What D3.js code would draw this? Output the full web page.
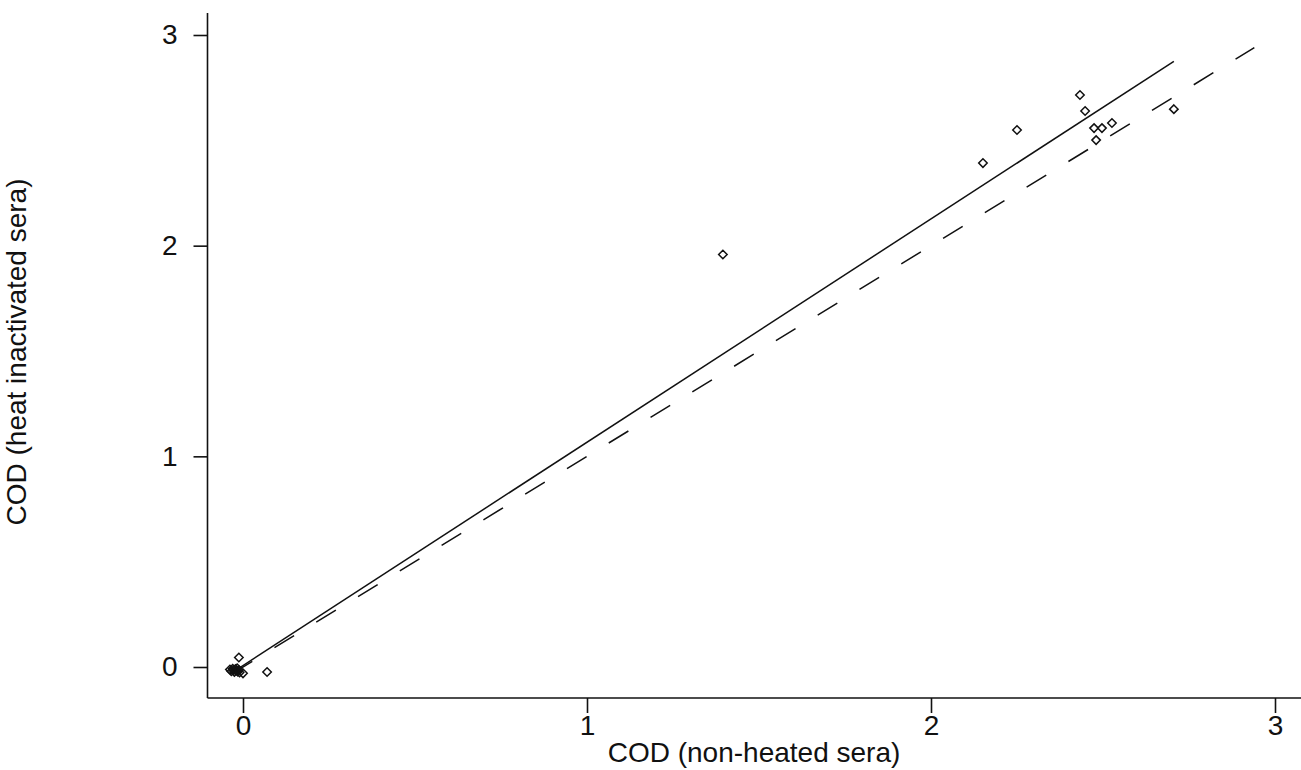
<!DOCTYPE html>
<html>
<head>
<meta charset="utf-8">
<script src="https://cdn.jsdelivr.net/npm/d3@7"></script>
<style>
  html, body { margin: 0; padding: 0; background: #fff; }
  svg text { font-family: "Liberation Sans", Arial, sans-serif; fill: #111; }
</style>
</head>
<body>
<svg id="chart" width="1301" height="770"></svg>
<script>
// ---- data ----
const xValues = [-0.038, -0.034, -0.03, -0.028, -0.025, -0.022, -0.02, -0.017, -0.015, -0.012, -0.01,
                 -0.012, 0.0, 0.07,
                 1.395, 2.151, 2.25, 2.433, 2.448, 2.474, 2.497, 2.526, 2.48, 2.706];
const yValues = [-0.012, -0.02, -0.008, -0.016, -0.024, -0.01, -0.018, -0.006, -0.022, -0.014, -0.026,
                 0.045, -0.03, -0.024,
                 1.958, 2.392, 2.549, 2.715, 2.639, 2.558, 2.558, 2.582, 2.501, 2.648];
const fitIntercept = 0.007;
const fitSlope = 1.06;
const identityRange = [-0.03, 2.94];
const xTicks = [0, 1, 2, 3];
const yTicks = [0, 1, 2, 3];
const xTitle = "COD (non-heated sera)";
const yTitle = "COD (heat inactivated sera)";

const svg = d3.select("#chart");
const x = d3.scaleLinear().domain([0, 3]).range([243, 1275]);
const y = d3.scaleLinear().domain([0, 3]).range([667, 35]);

const axisX = 698, axisY = 207.5;

// axis lines
svg.append("line").attr("x1", axisY).attr("x2", 1301).attr("y1", axisX).attr("y2", axisX)
  .attr("stroke", "#111").attr("stroke-width", 1.6);
svg.append("line").attr("x1", axisY).attr("x2", axisY).attr("y1", 13).attr("y2", axisX)
  .attr("stroke", "#111").attr("stroke-width", 1.6);

const gx = svg.append("g").attr("transform", `translate(0,${axisX})`)
  .call(d3.axisBottom(x).tickValues(xTicks).tickFormat(d3.format("d")).tickSize(15).tickSizeOuter(0).tickPadding(2));
const gy = svg.append("g").attr("transform", `translate(${axisY},0)`)
  .call(d3.axisLeft(y).tickValues(yTicks).tickFormat(d3.format("d")).tickSize(14).tickSizeOuter(0).tickPadding(16));
[gx, gy].forEach(g => {
  g.select(".domain").remove();
  g.selectAll(".tick line").attr("stroke", "#111").attr("stroke-width", 1.6);
  g.selectAll(".tick text").attr("font-size", 28).attr("font-family", "Liberation Sans, Arial, sans-serif").attr("fill", "#111");
});

// titles
svg.append("text").attr("x", 754).attr("y", 762).attr("text-anchor", "middle")
  .attr("font-size", 28).text(xTitle);
svg.append("text").attr("transform", "translate(26,352) rotate(-90)").attr("text-anchor", "middle")
  .attr("font-size", 28).text(yTitle);

// fitted solid line
const xmin = d3.min(xValues), xmax = d3.max(xValues);
svg.append("line")
  .attr("x1", x(xmin)).attr("y1", y(fitIntercept + fitSlope * xmin))
  .attr("x2", x(xmax)).attr("y2", y(fitIntercept + fitSlope * xmax))
  .attr("stroke", "#111").attr("stroke-width", 1.5);

// identity dashed line
svg.append("line")
  .attr("x1", x(identityRange[0])).attr("y1", y(identityRange[0]))
  .attr("x2", x(identityRange[1])).attr("y2", y(identityRange[1]))
  .attr("stroke", "#111").attr("stroke-width", 1.5).attr("stroke-dasharray", "23,26");

// points (diamonds)
const pts = xValues.map((v, i) => [v, yValues[i]]);
const sym = d3.symbol().type(d3.symbolDiamond2).size(46);
svg.append("g").selectAll("path").data(pts).join("path")
  .attr("transform", d => `translate(${x(d[0])},${y(d[1])})`)
  .attr("d", sym)
  .attr("fill", "none").attr("stroke", "#111").attr("stroke-width", 1.5);
</script>
</body>
</html>
